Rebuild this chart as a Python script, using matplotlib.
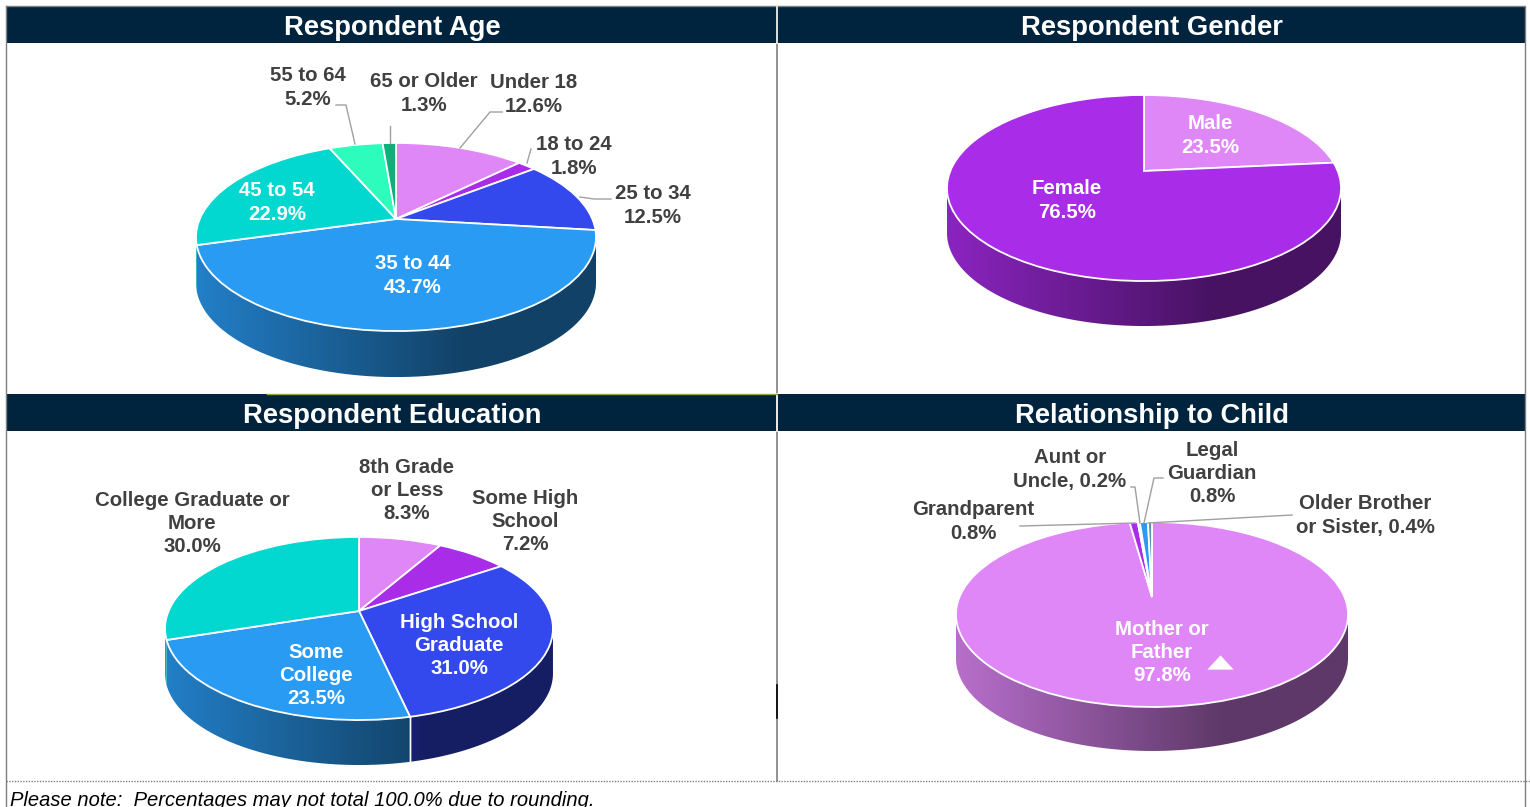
import numpy as np
import matplotlib
matplotlib.use("Agg")
import matplotlib.pyplot as plt
from matplotlib.patches import Polygon, Rectangle
from matplotlib.transforms import Transform

plt.rcParams["font.family"] = ["Liberation Sans", "DejaVu Sans"]

# data
age_values = [12.6, 1.8, 12.5, 43.7, 22.9, 5.2, 1.3]
age_labels = ["Under 18\n12.6%", "18 to 24\n1.8%", "25 to 34\n12.5%", "35 to 44\n43.7%",
              "45 to 54\n22.9%", "55 to 64\n5.2%", "65 or Older\n1.3%"]
gender_values = [23.5, 76.5]
gender_labels = ["Male\n23.5%", "Female\n76.5%"]
edu_values = [8.3, 7.2, 31.0, 23.5, 30.0]
edu_labels = ["8th Grade\nor Less\n8.3%", "Some High\nSchool\n7.2%", "High School\nGraduate\n31.0%",
              "Some\nCollege\n23.5%", "College Graduate or\nMore\n30.0%"]
rel_values = [97.8, 0.8, 0.2, 0.8, 0.4]
rel_labels = ["Mother or\nFather\n97.8%", "Grandparent\n0.8%", "Aunt or\nUncle, 0.2%",
              "Legal\nGuardian\n0.8%", "Older Brother\nor Sister, 0.4%"]

titles = ["Respondent Age", "Respondent Gender", "Respondent Education", "Relationship to Child"]
note = "Please note:  Percentages may not total 100.0% due to rounding."

colors = ["#e087f8", "#a92ce9", "#3349ee", "#2a9bf3", "#02d8d0", "#2efcbc", "#0daf7a"]
rel_colors = ["#e087f8", "#a92ce9", "#3349ee", "#2a9bf3", "#5f8fb0"]
navy = "#00243e"
grey = "#404040"
leader = "#a0a0a0"


class Tilt(Transform):
    # unit circle -> tilted disc in pixels, far side smaller
    input_dims = 2
    output_dims = 2

    def __init__(self, cx, cy, a, b, k):
        super().__init__()
        self.cx, self.cy, self.a, self.b, self.k = cx, cy, a, b, k

    def transform_non_affine(self, values):
        values = np.asarray(values)
        w = 1 + self.k * values[:, 1]
        return np.column_stack([self.cx + self.a * values[:, 0] / w,
                                self.cy - self.b * values[:, 1] / w])


def draw_pie(ax, values, cols, cx, cy, a, b, k, depth):
    tilt = Tilt(cx, cy, a, b, k)
    wedges, _ = ax.pie(values, colors=cols, startangle=90, counterclock=False,
                       wedgeprops={"edgecolor": "white", "linewidth": 1.3, "zorder": 3})
    ax.set_aspect("auto")
    for w in wedges:
        w.set_transform(tilt + ax.transData)

    # side wall, only from the left to the right silhouette point
    edge = np.degrees(np.arcsin(k))
    lo, hi = -180 + edge, -edge
    left, right = cx - a / np.sqrt(1 - k**2), cx + a / np.sqrt(1 - k**2)
    for w, col in zip(wedges, cols):
        t1, t2 = max(w.theta1, lo), min(w.theta2, hi)
        if t2 <= t1:
            continue
        t = np.radians(np.linspace(t1, t2, 80))
        rim = tilt.transform_non_affine(np.column_stack([np.cos(t), np.sin(t)]))
        low = rim + [0, depth]
        poly = Polygon(np.vstack([rim, low[::-1]]), closed=True, transform=ax.transData,
                       facecolor="none", edgecolor="none")
        ax.add_patch(poly)
        xs = np.linspace(left, right, 200)
        shade = np.interp(xs, [left, left + 0.68 * (right - left)], [0.82, 0.42])
        rgb = np.array(matplotlib.colors.to_rgb(col))
        img = (shade[:, None] * rgb)[None, :, :]
        im = ax.imshow(img, extent=[left, right, cy + b / (1 - k) + depth + 5, cy - b], aspect="auto",
                       zorder=1, interpolation="bilinear")
        im.set_clip_path(poly)
        for tb in (t1, t2):
            if lo + 10 < tb < hi - 10:
                p = tilt.transform_non_affine(np.array([[np.cos(np.radians(tb)), np.sin(np.radians(tb))]]))[0]
                ax.plot([p[0], p[0]], [p[1], p[1] + depth], color="white", lw=1, zorder=2)


fig = plt.figure(figsize=(15.3, 8.07), dpi=100)
ax = fig.add_axes([0, 0, 1, 1])

draw_pie(ax, age_values, colors[:7], 396, 219, 196.3, 90.6, 0.1915, 46)
draw_pie(ax, gender_values, colors[:2], 1144, 171, 193.7, 89.9, 0.183, 45)
draw_pie(ax, edu_values, colors[:5], 359, 611, 190.4, 88.2, 0.191, 45)
draw_pie(ax, rel_values, rel_colors, 1152, 597, 192.5, 89.2, 0.189, 44)

ax.set_xlim(0, 1530)
ax.set_ylim(807, 0)
ax.axis("off")

# panel frame and headers
for y0, y1 in [(7, 43), (394, 431)]:
    ax.add_patch(Rectangle((6, y0), 1519, y1 - y0, facecolor=navy, edgecolor="none", zorder=5))
ax.plot([6, 1525, 1525], [6, 6, 781], color="#7f7f7f", lw=1, zorder=6)
ax.plot([6, 6], [6, 807], color="#7f7f7f", lw=1, zorder=6)
ax.plot([1525, 1525], [781, 807], color="#7f7f7f", lw=1, zorder=6)
ax.plot([777, 777], [43, 781], color="#7f7f7f", lw=1.2, zorder=6)
ax.plot([777, 777], [7, 43], color="white", lw=1.2, zorder=6)
ax.plot([777, 777], [394, 431], color="white", lw=1.2, zorder=6)
ax.plot([777, 777], [685, 718], color="black", lw=1.2, zorder=6)
ax.plot([267, 777], [393.5, 393.5], color="#9aa53c", lw=1, zorder=6)
ax.plot([6, 1530], [781, 781], color="#7f7f7f", lw=1, ls=(0, (1, 1)), zorder=6)

for title, (x, y) in zip(titles, [(392, 28), (1152, 28), (392, 416), (1152, 416)]):
    ax.text(x, y, title, color="white", fontsize=19.7, fontweight="bold", ha="center", va="center", zorder=7)

ax.text(10, 806, note, color="black", fontsize=14.5, style="italic", ha="left", va="baseline", zorder=7)

# leader lines
leaders = [
    [(336, 105), (346, 105), (355, 144)],
    [(390, 126), (390, 143)],
    [(502, 112), (490, 112), (460, 148)],
    [(531, 149), (527, 163)],
    [(611, 199), (594, 199), (580, 197)],
    [(1020, 526), (1135, 523)],
    [(1131, 487), (1135, 487), (1140, 523)],
    [(1163, 478), (1154, 478), (1144, 523)],
    [(1292, 515), (1148, 523)],
]
for pts in leaders:
    ax.plot(*zip(*pts), color=leader, lw=1, zorder=4)

# label positions, same order as the values
age_pos = [(534, 93), (574, 155), (653, 204), (413, 274), (277, 201), (308, 86), (424, 92)]
age_col = [grey, grey, grey, "white", "white", grey, grey]
gender_pos = [(1210, 134), (1067, 199)]
gender_col = ["white", "white"]
edu_pos = [(407, 489), (525, 520), (459, 644), (316, 674), (192, 522)]
edu_col = [grey, grey, "white", "white", grey]
rel_pos = [(1162, 651), (973, 520), (1070, 468), (1212, 472), (1365, 514)]
rel_col = ["white", grey, grey, grey, grey]

for labels, pos, cols in [(age_labels, age_pos, age_col), (gender_labels, gender_pos, gender_col),
                          (edu_labels, edu_pos, edu_col), (rel_labels, rel_pos, rel_col)]:
    for s, (x, y), c in zip(labels, pos, cols):
        ax.text(x, y + 1.5, s, color=c, fontsize=14.7, fontweight="bold", ha="center", va="center",
                linespacing=1.29, zorder=7)

# small white significance arrow
ax.plot([1220], [661.5], marker=[(-1, -0.54), (1, -0.54), (0, 0.54)], markersize=19,
        color="white", markeredgecolor="none", zorder=7)

plt.savefig("out.png", dpi=100)
